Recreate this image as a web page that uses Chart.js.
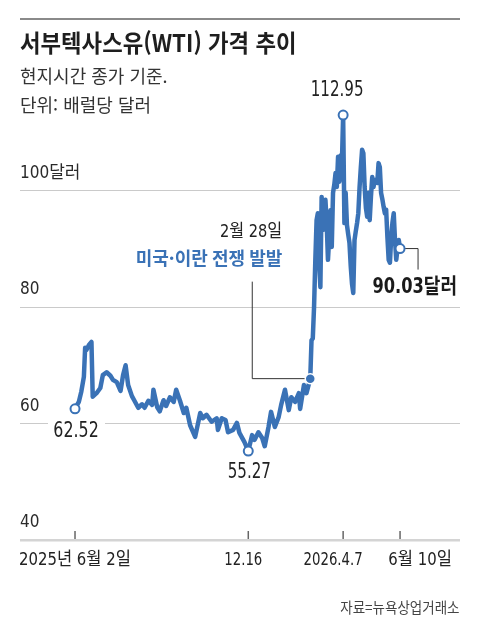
<!DOCTYPE html>
<html lang="ko">
<head>
<meta charset="utf-8">
<title>서부텍사스유(WTI) 가격 추이</title>
<script src="https://cdn.jsdelivr.net/npm/chart.js@4.4.1/dist/chart.umd.min.js"></script>
<style>
  body { margin: 0; background: #fff; }
  #wrap { position: relative; width: 480px; height: 636px; overflow: hidden; }
  #wrap canvas { position: absolute; left: 0; top: 0; }
  .rule { position: absolute; left: 20px; top: 18px; width: 440px; height: 2px; background: #8a8a8a; }
  .txt { position: absolute; white-space: nowrap; font-family: 'Noto Sans CJK KR', sans-serif; transform-origin: left center; }
  .title { left: 20px; top: 29px; font-size: 24px; line-height: 26px; font-weight: 700; color: #1e1e1e; transform: scaleX(0.93); }
  .sub { left: 20px; font-size: 18px; line-height: 20px; color: #333; }
  .src { right: 20px; top: 598px; font-size: 15px; line-height: 18px; color: #444; transform-origin: right center; transform: scaleX(0.9); }
</style>
</head>
<body>
<div id="wrap">
  <canvas id="grafica-wti" width="480" height="636"></canvas>
  <div class="rule"></div>
  <div class="txt title">서부텍사스유(WTI) 가격 추이</div>
  <div class="txt sub" style="top:65px">현지시간 종가 기준.</div>
  <div class="txt sub" style="top:94px">단위: 배럴당 달러</div>
  <div class="txt src">자료=뉴욕상업거래소</div>
</div>
<script>
// 거래일 순번 (2025년 6월 2일 = 0)
const tradingDays = [
  0, 3, 5, 7, 8, 9, 11, 13, 14, 17, 20, 22, 25, 28, 30, 33, 36, 38, 40, 42,
  45, 47, 50, 53, 55, 58, 61, 62, 65, 67, 70, 72, 75, 78, 80, 83, 86, 88, 91, 95,
  99, 101, 104, 108, 112, 113, 116, 119, 121, 125, 128, 130, 134, 137, 140, 142, 145, 148, 150, 153,
  155, 158, 161, 163, 166, 169, 171, 174, 177, 178, 181, 183, 186, 187, 188, 189, 190, 191, 192, 193,
  194, 195, 196, 197, 198, 199, 200, 201, 202, 203, 204, 205, 206, 207, 208, 209, 210, 211, 212, 213,
  214, 215, 216, 217, 218, 219, 220, 221, 222, 223, 224, 225, 226, 227, 228, 229, 230, 231, 232, 233,
  234, 235, 236, 237, 238, 239, 240, 241, 242, 243, 244, 245, 246, 247, 248, 249, 250, 251, 252, 253,
  254, 255, 256, 257
];
// 종가 (배럴당 달러)
const prices = [
  62.52, 63.7, 65.5, 68.0, 73.0, 72.6, 73.5, 74.0, 64.6, 65.2, 66.1, 68.3, 68.8, 68.2, 67.5, 67.1, 65.6, 68.3, 70.0, 66.6,
  64.7, 63.9, 62.7, 63.3, 62.7, 63.9, 63.2, 65.8, 62.8, 62.1, 64.0, 63.0, 64.5, 63.7, 65.8, 63.9, 61.8, 62.7, 59.7, 57.7,
  61.8, 60.9, 61.5, 60.3, 60.9, 58.9, 60.9, 60.6, 58.5, 58.9, 60.1, 58.4, 56.8, 55.27, 58.0, 57.2, 58.5, 57.5, 56.1, 59.4,
  62.0, 59.4, 61.1, 63.2, 65.8, 62.3, 64.5, 63.7, 65.2, 62.5, 66.6, 65.2, 67.7, 74.3, 74.6, 80.0, 88.0, 94.9, 96.1, 88.0,
  83.4, 98.9, 93.2, 96.0, 98.4, 94.4, 88.1, 92.0, 96.6, 90.3, 99.6, 101.0, 103.0, 100.6, 105.8, 101.5, 106.0, 104.5, 112.95, 94.4,
  99.6, 94.1, 92.5, 91.0, 87.0, 84.0, 82.4, 91.5, 93.0, 94.4, 96.1, 100.6, 104.0, 107.0, 106.4, 100.6, 97.0, 95.5, 99.6, 94.9,
  99.0, 102.3, 100.6, 101.8, 101.5, 101.3, 104.7, 104.0, 99.6, 98.5, 97.2, 96.1, 96.7, 92.0, 88.1, 87.6, 92.0, 94.5, 96.1, 91.5,
  88.1, 90.0, 91.5, 90.03
];

const tickDays = [0, 137, 212, 257];
const tickLabels = ['2025년 6월 2일', '12.16', '2026.4.7', '6월 10일'];
const yTicks = [40, 60, 80, 100];

// 표시할 지점: 시작, 최저, 최고, 마지막
const keyDays = [0, 137, 212, 257];
const keyLabels = ['62.52', '55.27', '112.95', '90.03달러'];
// 미국·이란 전쟁 발발 직전 거래일
const warDay = 186;

const BLUE = '#3a72b6';
const NARROW = "'Liberation Sans Narrow', 'DejaVu Sans Condensed', 'Noto Sans CJK KR', sans-serif";
const KR = "'Noto Sans CJK KR', sans-serif";

const serie = tradingDays.map((d, i) => ({ x: d, y: prices[i] }));
const puntosClave = keyDays.map(d => serie[tradingDays.indexOf(d)]);
const puntoGuerra = [serie[tradingDays.indexOf(warDay)]];

function texto(ctx, t, x, y, font, color, align, squeeze) {
    ctx.font = font;
    ctx.fillStyle = color;
    ctx.textAlign = align;
    ctx.textBaseline = 'middle';
    const w = ctx.measureText(t).width;
    ctx.fillText(t, x, y, w * (squeeze || 1));
}

// Líneas guía de las anotaciones (debajo de la línea)
const guias = {
    id: 'guias',
    beforeDatasetsDraw(chart) {
        const { ctx, scales: { x, y } } = chart;
        ctx.save();
        ctx.strokeStyle = '#333';
        ctx.lineWidth = 1;
        // 2월 28일
        const gx = x.getPixelForValue(warDay);
        const gy = y.getPixelForValue(puntoGuerra[0].y);
        ctx.beginPath();
        ctx.moveTo(gx - 58, gy - 97);
        ctx.lineTo(gx - 58, gy);
        ctx.lineTo(gx - 4, gy);
        ctx.stroke();
        // 마지막 값
        const last = puntosClave[3];
        const lx = x.getPixelForValue(last.x);
        const ly = y.getPixelForValue(last.y);
        ctx.beginPath();
        ctx.moveTo(lx + 5, ly);
        ctx.lineTo(lx + 18, ly);
        ctx.lineTo(lx + 18, ly + 21);
        ctx.stroke();
        ctx.restore();
    }
};

// Etiquetas de valores, eje X y textos
const etiquetas = {
    id: 'etiquetas',
    afterDraw(chart) {
        const { ctx, scales: { x, y } } = chart;
        ctx.save();
        const px = puntosClave.map(p => x.getPixelForValue(p.x));
        const py = puntosClave.map(p => y.getPixelForValue(p.y));

        // 62.52 con fondo blanco sobre la cuadrícula
        ctx.fillStyle = '#fff';
        ctx.fillRect(px[0] - 27, py[0] + 13, 57, 20);
        texto(ctx, keyLabels[0], px[0] + 1, py[0] + 23, '21px ' + NARROW, '#222', 'center', 0.84);
        texto(ctx, keyLabels[1], px[1] + 1, py[1] + 21, '21px ' + NARROW, '#222', 'center', 0.8);
        texto(ctx, keyLabels[2], px[2] - 6, py[2] - 25, '21px ' + NARROW, '#222', 'center', 0.8);
        texto(ctx, keyLabels[3], px[3] + 57, py[3] + 39, 'bold 21px ' + NARROW, '#1a1a1a', 'right', 0.86);

        // 2월 28일 / 미국·이란 전쟁 발발
        const gx = x.getPixelForValue(warDay);
        const gy = y.getPixelForValue(puntoGuerra[0].y);
        texto(ctx, '2월 28일', gx - 28, gy - 146, '18px ' + NARROW, '#222', 'right', 0.9);
        texto(ctx, '미국·이란 전쟁 발발', gx - 28, gy - 120, 'bold 18px ' + KR, BLUE, 'right', 1);

        // marcas y etiquetas del eje X
        const base = y.getPixelForValue(40);
        const tickShift = [0, -5, -10, 20];
        ctx.strokeStyle = '#666';
        ctx.lineWidth = 1.5;
        tickDays.forEach((d, i) => {
            const tx = x.getPixelForValue(d);
            ctx.beginPath();
            ctx.moveTo(tx, base - 9);
            ctx.lineTo(tx, base - 1);
            ctx.stroke();
            const squeeze = /[가-힣]/.test(tickLabels[i]) ? 0.92 : 0.82;
            texto(ctx, tickLabels[i], tx + tickShift[i], base + 20, '18px ' + NARROW, '#222', 'center', squeeze);
        });
        ctx.restore();
    }
};

const ctx = document.getElementById('grafica-wti').getContext('2d');
new Chart(ctx, {
    type: 'line',
    data: {
        datasets: [
            {
                label: '마커',
                data: puntosClave,
                showLine: false,
                pointRadius: 4.5,
                pointBorderWidth: 2,
                pointBackgroundColor: '#fff',
                pointBorderColor: BLUE,
                order: 0
            },
            {
                label: '전쟁',
                data: puntoGuerra,
                showLine: false,
                pointRadius: 5,
                pointBorderWidth: 1.5,
                pointBackgroundColor: BLUE,
                pointBorderColor: '#fff',
                order: 1
            },
            {
                label: 'WTI',
                data: serie,
                borderColor: BLUE,
                borderWidth: 4.5,
                borderJoinStyle: 'round',
                borderCapStyle: 'round',
                pointRadius: 0,
                tension: 0,
                clip: false,
                order: 2
            }
        ]
    },
    options: {
        responsive: false,
        animation: false,
        devicePixelRatio: 1,
        layout: { padding: { top: 74, bottom: 96, left: 20, right: 20 } },
        plugins: { legend: { display: false }, tooltip: { enabled: false } },
        scales: {
            x: {
                type: 'linear',
                min: -43.5,
                max: 304.4,
                display: false
            },
            y: {
                min: 40,
                max: 120,
                afterBuildTicks: s => { s.ticks = yTicks.map(v => ({ value: v })); },
                border: { display: false },
                grid: {
                    drawTicks: false,
                    color: c => c.tick && c.tick.value === 40 ? '#d4d4d4' : '#cacaca',
                    lineWidth: c => c.tick && c.tick.value === 40 ? 2.5 : 1
                },
                ticks: {
                    mirror: true,
                    padding: 0,
                    labelOffset: -17,
                    color: '#2a2a2a',
                    font: { family: NARROW, size: 17 },
                    callback: v => v === 100 ? '100달러' : String(v)
                }
            }
        }
    },
    plugins: [guias, etiquetas]
});
</script>
</body>
</html>
